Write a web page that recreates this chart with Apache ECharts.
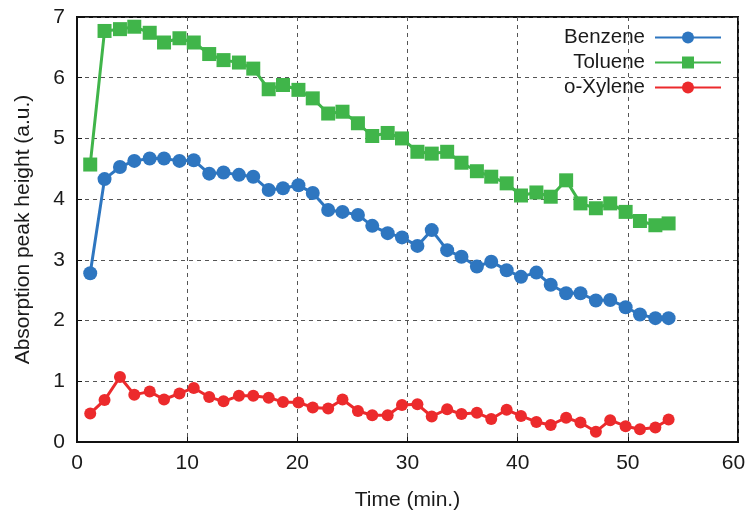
<!DOCTYPE html>
<html>
<head>
<meta charset="utf-8">
<script src="https://cdn.jsdelivr.net/npm/echarts@6/dist/echarts.min.js"></script>
<style>
  html, body { margin: 0; padding: 0; background: #fff; }
  #chart { width: 747px; height: 512px; }
</style>
</head>
<body>
<div id="chart"></div>
<script>
// Sampling times (min.)
const times = [1.2, 2.5, 3.9, 5.2, 6.6, 7.9, 9.3, 10.6, 12.0, 13.3,
  14.7, 16.0, 17.4, 18.7, 20.1, 21.4, 22.8, 24.1, 25.5, 26.8,
  28.2, 29.5, 30.9, 32.2, 33.6, 34.9, 36.3, 37.6, 39.0, 40.3,
  41.7, 43.0, 44.4, 45.7, 47.1, 48.4, 49.8, 51.1, 52.5, 53.7];

// Absorption peak heights (a.u.)
const benzene = [2.78, 4.33, 4.53, 4.63, 4.67, 4.67, 4.63, 4.64, 4.42, 4.44,
  4.40, 4.37, 4.15, 4.18, 4.23, 4.10, 3.82, 3.79, 3.74, 3.56,
  3.44, 3.37, 3.23, 3.49, 3.16, 3.05, 2.89, 2.97, 2.83, 2.72,
  2.79, 2.59, 2.45, 2.45, 2.33, 2.34, 2.22, 2.10, 2.04, 2.04];

const toluene = [4.57, 6.77, 6.80, 6.84, 6.74, 6.58, 6.65, 6.58, 6.39, 6.29,
  6.25, 6.15, 5.81, 5.88, 5.80, 5.66, 5.41, 5.44, 5.25, 5.04,
  5.09, 5.00, 4.78, 4.75, 4.78, 4.60, 4.46, 4.37, 4.26, 4.06,
  4.11, 4.04, 4.31, 3.93, 3.85, 3.93, 3.79, 3.64, 3.57, 3.60];

const xylene = [0.47, 0.69, 1.07, 0.78, 0.83, 0.70, 0.80, 0.89, 0.74, 0.67,
  0.76, 0.76, 0.73, 0.66, 0.65, 0.57, 0.55, 0.70, 0.51, 0.44,
  0.44, 0.61, 0.62, 0.42, 0.54, 0.46, 0.48, 0.38, 0.53, 0.43,
  0.33, 0.28, 0.40, 0.32, 0.17, 0.36, 0.26, 0.21, 0.24, 0.37];

const seriesNames = ['Benzene', 'Toluene', 'o-Xylene'];
const xTicks = { min: 0, max: 60, step: 10 };
const yTicks = { min: 0, max: 7, step: 1 };

const FONT = 'Liberation Sans, Arial, Helvetica, sans-serif';
const TEXT = '#1a1a1a';

function pairs(ys) {
  return times.map((t, i) => [t, ys[i]]);
}

const gridLine = { show: true, lineStyle: { color: '#555', width: 1, type: [4, 4] } };
const tickIn = { show: true, inside: true, length: 5, lineStyle: { color: '#111', width: 1 } };

const chart = echarts.init(document.getElementById('chart'), null, { renderer: 'canvas' });
chart.setOption({
  animation: false,
  backgroundColor: '#fff',
  grid: {
    left: 77, right: 9, top: 17, bottom: 70,
    containLabel: false,
    outerBoundsMode: 'none',
    show: true, borderColor: '#111', borderWidth: 2, backgroundColor: 'transparent'
  },
  legend: {
    data: seriesNames,
    orient: 'vertical',
    align: 'right',
    right: 20,
    top: 22,
    itemWidth: 66,
    itemHeight: 15,
    itemGap: 4,
    textStyle: { fontFamily: FONT, fontSize: 20.5, color: TEXT, padding: [0, 5, 0, 0] }
  },
  xAxis: {
    type: 'value',
    min: xTicks.min, max: xTicks.max, interval: xTicks.step,
    name: 'Time (min.)',
    nameLocation: 'middle',
    nameGap: 48,
    nameTextStyle: { fontFamily: FONT, fontSize: 21, color: TEXT },
    axisLine: { show: true, lineStyle: { color: '#111', width: 2 } },
    axisTick: tickIn,
    axisLabel: {
      fontFamily: FONT, fontSize: 21, color: TEXT, margin: 11,
      // keep the last label inside the canvas edge
      formatter: v => (v === xTicks.max ? '{edge|' + v + '}' : String(v)),
      rich: { edge: { fontFamily: FONT, fontSize: 21, color: TEXT, padding: [0, 9, 0, 0] } }
    },
    splitLine: gridLine
  },
  yAxis: {
    type: 'value',
    min: yTicks.min, max: yTicks.max, interval: yTicks.step,
    name: 'Absorption peak height (a.u.)',
    nameLocation: 'middle',
    nameGap: 43,
    nameTextStyle: { fontFamily: FONT, fontSize: 21, color: TEXT },
    axisLine: { show: true, lineStyle: { color: '#111', width: 2 } },
    axisTick: tickIn,
    axisLabel: { fontFamily: FONT, fontSize: 21, color: TEXT, margin: 12 },
    splitLine: gridLine
  },
  series: [
    {
      name: seriesNames[0], type: 'line', data: pairs(benzene),
      symbol: 'circle', symbolSize: 14,
      lineStyle: { color: '#2E76C0', width: 3 },
      itemStyle: { color: '#2E76C0' }
    },
    {
      name: seriesNames[1], type: 'line', data: pairs(toluene),
      symbol: 'rect', symbolSize: 14,
      lineStyle: { color: '#40B54A', width: 3 },
      itemStyle: { color: '#40B54A' }
    },
    {
      name: seriesNames[2], type: 'line', data: pairs(xylene),
      symbol: 'circle', symbolSize: 12,
      lineStyle: { color: '#EC2A2C', width: 3 },
      itemStyle: { color: '#EC2A2C' }
    }
  ]
});
</script>
</body>
</html>
